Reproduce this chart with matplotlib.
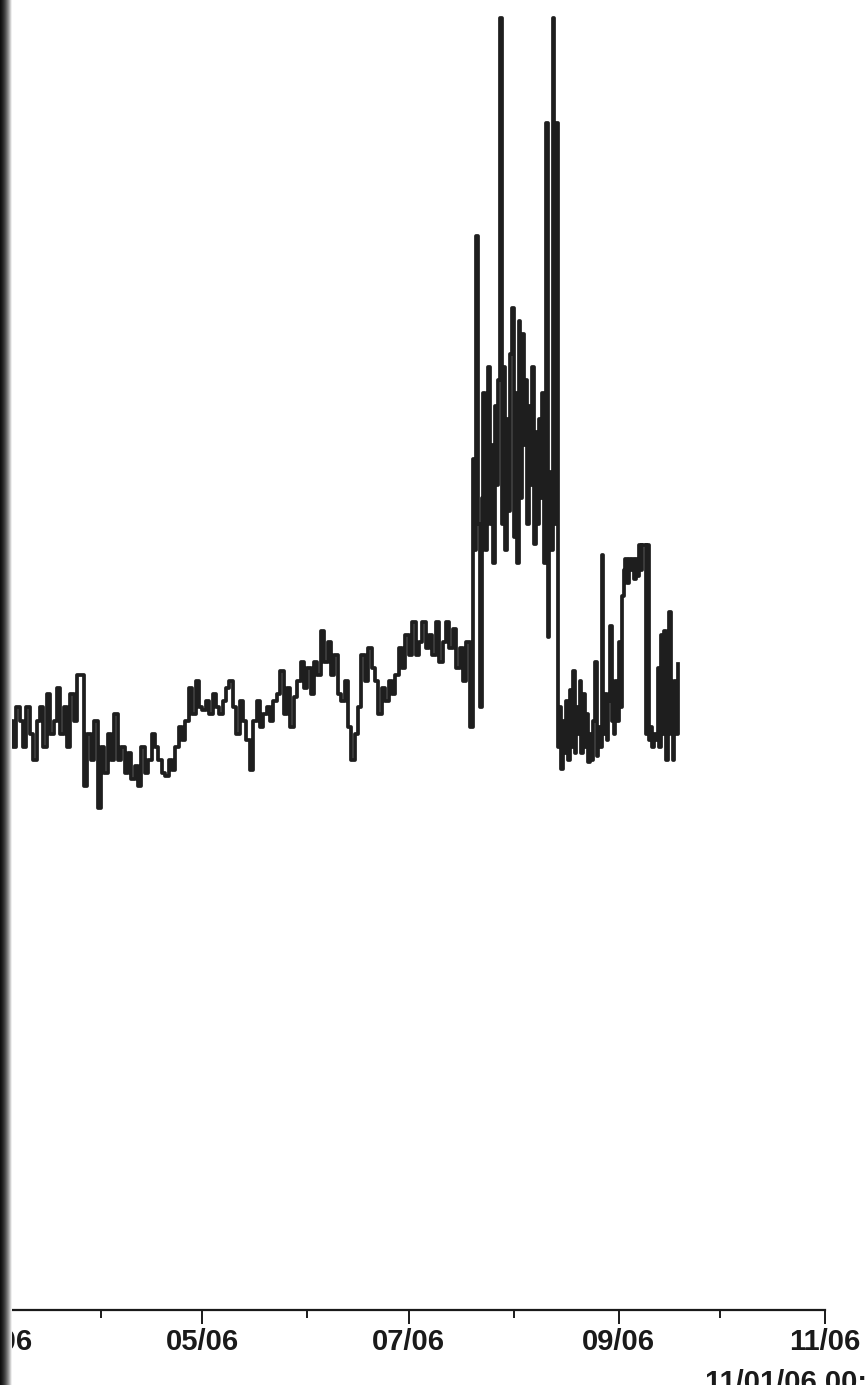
import matplotlib
matplotlib.use("Agg")
import matplotlib.pyplot as plt
from matplotlib import font_manager
import numpy as np
import pandas as pd

start = pd.Timestamp("2006-03-01")

# daily readings, 03/01 through 07/20
daily_values = [
    44, 44, 46, 44, 45, 43, 46,
    45, 43, 46, 44, 42, 45,
    46, 43, 47, 44,
    45, 47.5, 44, 46,
    43, 47, 45,
    48.5, 48.5,
    40,
    44, 42, 45,
    38.3,
    43, 41, 44, 42,
    45.5, 42, 43,
    41, 42.5, 40.5, 41.5, 40,
    43, 41, 42, 44, 43,
    42, 41, 40.8, 42, 41.2,
    43, 44.5, 43.5, 45,
    47.5, 45.5, 48, 46, 45.8,
    46.5, 45.5, 47, 46, 45.5, 46.5,
    47.5, 48, 46,
    44, 46.5, 45,
    43.5,
    41.2,
    45, 46.5, 44.5, 45.5, 46,
    45, 46.5, 47, 48.8,
    45.5, 47.5, 44.5, 46.8,
    48, 49.5, 47.5, 49,
    47, 49.5, 48.5, 51.8,
    49.5, 51, 48.5, 50,
    47, 46.5, 48, 44.5,
    42, 44, 46,
    50, 48, 50.5, 49, 48,
    45.5, 47.5,
    46.5, 48, 47, 48.5,
    50.5, 49, 51.5, 50,
    52.5, 50, 51, 52.5, 50.5,
    51.5, 50, 52.5, 49.5,
    51, 52.5, 50.5, 52, 49,
    50.5, 48, 51,
    44.5,
]

# 12-hourly readings, 07/21 through 08/14
burst_values = [
    65, 58, 82, 60, 46, 62, 70, 58, 67, 72,
    60, 66, 57, 69, 63, 71, 98.6, 60, 72, 58,
    68, 61, 73, 76.5, 59, 70, 57, 75.5, 62, 74.5,
    66, 71, 60, 69, 63, 72, 58.5, 67, 60, 68,
    62, 70, 57, 90.6, 51.4, 64, 58, 98.6, 60, 90.6,
]

# 12-hourly readings, 08/15 through 09/19
tail_values = [
    43, 46, 41.3, 45, 42.5, 46.5, 42, 47.3, 43, 48.8,
    42.5, 46, 44, 48, 42.5, 47, 43, 45.5, 41.8, 44,
    42, 45, 49.5, 42.3, 44.5, 43, 57.6, 44, 47, 43.5,
    46.5, 52.2, 45, 44, 48, 45, 51, 46, 54.5, 56.5,
    57.3, 55.5, 57.3, 56.5, 57.3, 55.8, 57.3, 56, 58.4, 56.5,
    58.4, 58.4, 44, 58.4, 43.5, 44.5, 43, 44, 43.5, 49,
    43, 51.5, 44, 51.8, 42, 50, 53.3, 44, 42, 48,
    44, 49.3,
]

dates = (list(pd.date_range(start, periods=len(daily_values), freq="D"))
         + list(pd.date_range(start + pd.Timedelta(days=141), periods=len(burst_values), freq="12h"))
         + list(pd.date_range(start + pd.Timedelta(days=166), periods=len(tail_values), freq="12h")))
values = daily_values + burst_values + tail_values

major_ticks = pd.to_datetime(["2006-03-01", "2006-05-01", "2006-07-01", "2006-09-01", "2006-11-01"])
minor_ticks = pd.to_datetime(["2006-04-01", "2006-06-01", "2006-08-01", "2006-10-01"])
tick_labels = ["03/06", "05/06", "07/06", "09/06", "11/06"]
end_label = "11/01/06 00:00"

# condensed bold face for the date labels if it is there
names = {f.name for f in font_manager.fontManager.ttflist}
if "Liberation Sans Narrow" in names:
    label_font = dict(family="Liberation Sans Narrow", fontsize=25, fontweight="bold")
else:
    label_font = dict(family="Liberation Sans", fontsize=21, fontweight="bold")

W, H = 866, 1385
fig = plt.figure(figsize=(W / 100, H / 100), dpi=100)
ax = fig.add_axes([-4 / W, 75 / H, 829 / W, 1310 / H])

ax.step(dates, values, where="post", color="#1e1e1e", linewidth=2.7)

ax.set_xlim(pd.Timestamp("2006-03-01"), pd.Timestamp("2006-11-01"))
ax.set_ylim(0, 100)
ax.set_yticks([])
for side in ["left", "top", "right"]:
    ax.spines[side].set_visible(False)
ax.spines["bottom"].set_linewidth(1.6)
ax.spines["bottom"].set_color("#1a1a1a")

ax.set_xticks(major_ticks)
ax.set_xticklabels(tick_labels, color="#1a1a1a", **label_font)
ax.set_xticks(minor_ticks, minor=True)
ax.tick_params(axis="x", which="major", length=10, width=1.4, pad=3, color="#1a1a1a")
ax.tick_params(axis="x", which="minor", length=6, width=1.4, color="#1a1a1a")

fig.text(705 / W, 2 / H, end_label, color="#1a1a1a", ha="left", va="center", **label_font)

# dark edge down the left side
edge = fig.add_axes([0, 0, 12 / W, 1])
grad = np.linspace(0.25, 1.0, 64) ** 2.2
edge.imshow(np.tile(grad, (8, 1)), cmap="gray", vmin=0, vmax=1, aspect="auto",
            extent=[0, 1, 0, 1], interpolation="bilinear")
edge.axis("off")

fig.savefig("out.png", dpi=100)
